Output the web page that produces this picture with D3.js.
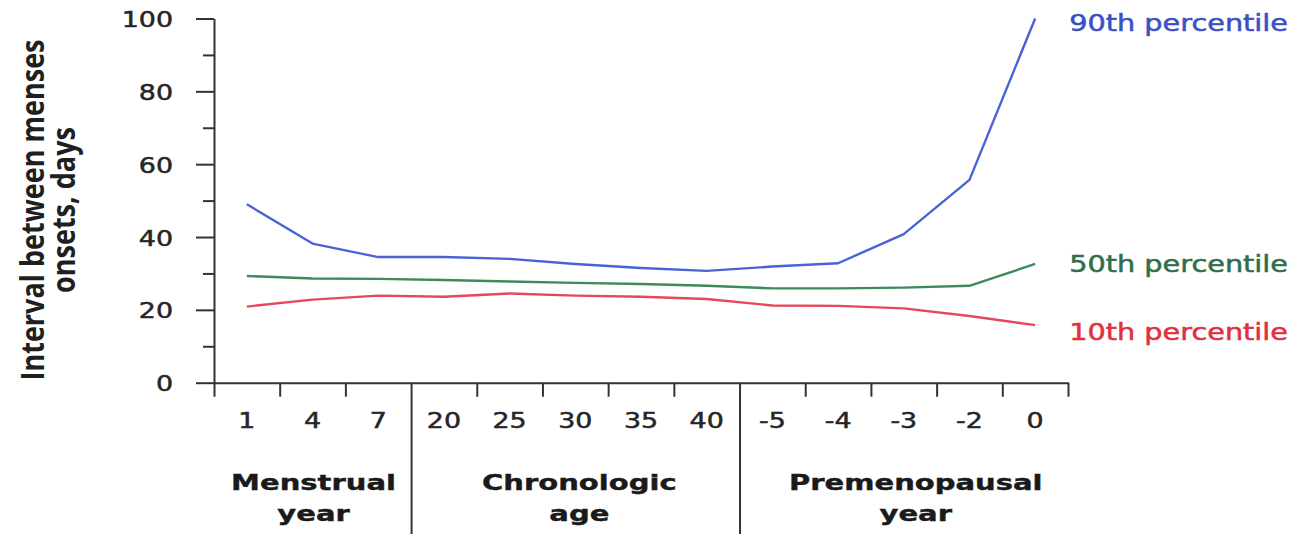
<!DOCTYPE html>
<html>
<head>
<meta charset="utf-8">
<script src="https://cdn.jsdelivr.net/npm/d3@7"></script>
<style>
  html, body { margin: 0; padding: 0; background: #ffffff; }
  svg { display: block; }
</style>
</head>
<body>
<div id="chart"></div>
<script>
// ---- data ----
const categories = ["1", "4", "7", "20", "25", "30", "35", "40", "-5", "-4", "-3", "-2", "0"];
const groupLabels = [["Menstrual", "year"], ["Chronologic", "age"], ["Premenopausal", "year"]];
const groupSizes = [3, 5, 5];
const p90 = [49, 38.2, 34.5, 34.5, 34, 32.6, 31.5, 30.7, 31.9, 32.8, 40.8, 55.7, 100];
const p50 = [29.3, 28.6, 28.5, 28.2, 27.8, 27.4, 27.1, 26.6, 25.9, 25.9, 26.1, 26.6, 32.6];
const p10 = [20.9, 22.8, 23.9, 23.6, 24.5, 23.9, 23.6, 23.0, 21.2, 21.1, 20.4, 18.3, 15.8];
const seriesNames = ["90th percentile", "50th percentile", "10th percentile"];
const yMajorTicks = [0, 20, 40, 60, 80, 100];
const yMinorTicks = [10, 30, 50, 70, 90];
const yTitle = ["Interval between menses", "onsets, days"];

// ---- layout ----
const W = 1295, H = 534;
const SX = 1.25; // horizontal stretch of the lettering
const mLeft = 214, mRight = 1068, mTop = 18.5, mBottom = 382.7;

const svg = d3.select("#chart").append("svg").attr("width", W).attr("height", H);

const x = d3.scaleBand().domain(categories).range([mLeft, mRight]).padding(0);
const xEdge = d3.scaleLinear().domain([0, categories.length]).range([mLeft, mRight]);
const y = d3.scaleLinear().domain([0, 100]).range([mBottom, mTop]);

const axisColor = "#333333";
const labelFont = "'DejaVu Sans', Verdana, sans-serif";

// y axis, major ticks with labels
const gy = svg.append("g").attr("transform", `translate(${mLeft},0)`)
  .call(d3.axisLeft(y).tickValues(yMajorTicks).tickSize(18).tickSizeOuter(0).tickFormat(d3.format("d")));
gy.select(".domain").attr("stroke", axisColor).attr("stroke-width", 2);
gy.selectAll(".tick line").attr("stroke", axisColor).attr("stroke-width", 2);
gy.selectAll(".tick text")
  .attr("x", null).attr("dy", null)
  .attr("transform", `translate(-41,8) scale(${SX},1)`)
  .attr("text-anchor", "end")
  .style("font-family", labelFont)
  .style("font-size", "21.5px")
  .attr("fill", "#262626")
  .attr("stroke", "#262626").attr("stroke-width", 0.5);

// y axis minor ticks
const gym = svg.append("g").attr("transform", `translate(${mLeft},0)`)
  .call(d3.axisLeft(y).tickValues(yMinorTicks).tickSize(11).tickSizeOuter(0).tickFormat(""));
gym.select(".domain").remove();
gym.selectAll(".tick line").attr("stroke", axisColor).attr("stroke-width", 2);

// x axis: ticks at band edges
const edgeTicks = d3.range(0, categories.length + 1);
const sepIdx = [groupSizes[0], groupSizes[0] + groupSizes[1]];
const gx = svg.append("g").attr("transform", `translate(0,${mBottom})`)
  .call(d3.axisBottom(xEdge).tickValues(edgeTicks.filter(i => !sepIdx.includes(i))).tickSize(14).tickSizeOuter(0).tickFormat(""));
gx.select(".domain").attr("stroke", axisColor).attr("stroke-width", 2);
gx.selectAll(".tick line").attr("stroke", axisColor).attr("stroke-width", 2);

// long separators between groups
const gs = svg.append("g").attr("transform", `translate(0,${mBottom})`)
  .call(d3.axisBottom(xEdge).tickValues(sepIdx).tickSize(H - mBottom + 2).tickSizeOuter(0).tickFormat(""));
gs.select(".domain").remove();
gs.selectAll(".tick line").attr("stroke", axisColor).attr("stroke-width", 2);

// category labels at band centres
const gl = svg.append("g").attr("transform", `translate(0,${mBottom})`)
  .call(d3.axisBottom(x).tickSize(0));
gl.select(".domain").remove();
gl.selectAll(".tick text")
  .attr("y", null).attr("dy", null)
  .attr("transform", `translate(0,45.5) scale(${SX},1)`)
  .style("font-family", labelFont)
  .style("font-size", "21.5px")
  .attr("fill", "#262626")
  .attr("stroke", "#262626").attr("stroke-width", 0.5);

// group titles
const groupShift = [1, 4, 12];
let start = 0;
groupLabels.forEach((lines, gi) => {
  const x0 = xEdge(start), x1 = xEdge(start + groupSizes[gi]);
  const cx = (x0 + x1) / 2 + groupShift[gi];
  lines.forEach((t, li) => {
    svg.append("text")
      .attr("transform", `translate(${cx},${490 + li * 31}) scale(1.35,1)`)
      .attr("text-anchor", "middle")
      .style("font-family", labelFont)
      .style("font-weight", "bold")
      .style("font-size", "21.5px")
      .attr("fill", "#1a1a1a")
      .attr("stroke", "#1a1a1a").attr("stroke-width", 0.4)
      .text(t);
  });
  start += groupSizes[gi];
});

// y axis title
yTitle.forEach((t, i) => {
  svg.append("text")
    .attr("transform", `translate(${44 + i * 31},${210}) scale(1.22,1) rotate(-90)`)
    .attr("text-anchor", "middle")
    .style("font-family", "'Open Sans', sans-serif")
    .style("font-weight", "bold")
    .style("font-size", "27px")
    .attr("fill", "#1f1f1f")
    .text(t);
});

// series
const series = [
  { name: seriesNames[0], values: p90, line: "#4a62d8", text: "#3a50c6", dy: 4 },
  { name: seriesNames[1], values: p50, line: "#3f8a5c", text: "#2f6e4a", dy: 0 },
  { name: seriesNames[2], values: p10, line: "#e6485a", text: "#e0303e", dy: 7 }
];

const line = d3.line()
  .x((d, i) => x(categories[i]) + x.bandwidth() / 2)
  .y(d => y(d));

series.forEach(s => {
  svg.append("path")
    .datum(s.values)
    .attr("fill", "none")
    .attr("stroke", s.line)
    .attr("stroke-width", 2.4)
    .attr("stroke-linejoin", "round")
    .attr("d", line);
  const last = s.values.length - 1;
  const lx = x(categories[last]) + x.bandwidth() / 2 + 34;
  const ly = y(s.values[last]) + s.dy;
  svg.append("text")
    .attr("transform", `translate(${lx},${ly}) scale(${SX},1)`)
    .attr("dy", "0.36em")
    .style("font-family", labelFont)
    .style("font-size", "23px")
    .attr("fill", s.text)
    .attr("stroke", s.text).attr("stroke-width", 0.5)
    .text(s.name);
});
</script>
</body>
</html>
